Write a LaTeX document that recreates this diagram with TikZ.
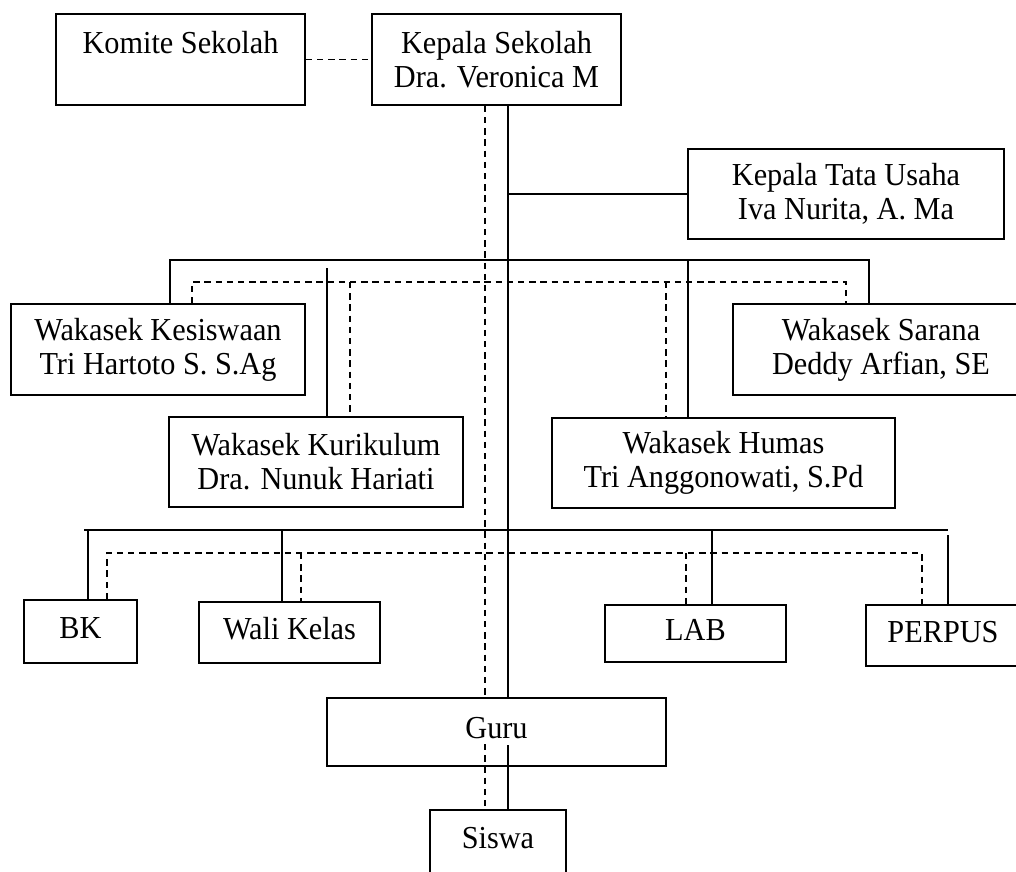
\documentclass[tikz,border=0pt]{standalone}
\usepackage{fontspec}
\setmainfont{Liberation Serif}[FakeStretch=0.946]
\begin{document}
\begin{tikzpicture}[x=0.75pt,y=-0.75pt,
  box/.style={draw,line width=1.3pt,rectangle,inner sep=0pt,align=center,
    font=\fontsize{24}{25.5}\selectfont},
  solidline/.style={line width=1.3pt},
  dashline/.style={line width=1.3pt,dash pattern=on 4.8pt off 3.6pt}]
\clip (0,0) rectangle (1016,871);
% boxes
\node[box,minimum width=186.75pt,minimum height=68.25pt] (komite) at (180.5,59.5) {Komite Sekolah\\\phantom{Dra. Veronica M}};
\node[box,minimum width=186.75pt,minimum height=68.25pt] (kepala) at (496.5,59.5) {Kepala Sekolah\\Dra. Veronica M};
\node[box,minimum width=237pt,minimum height=67.5pt] (ktu) at (846,194) {Kepala Tata Usaha\\Iva Nurita, A. Ma};
\node[box,minimum width=220.5pt,minimum height=68.25pt] (kesiswaan) at (158,349.5) {Wakasek Kesiswaan\\Tri Hartoto S. S.Ag};
\node[box,minimum width=222pt,minimum height=68.25pt] (sarana) at (881,349.5) {Wakasek Sarana\\Deddy Arfian, SE};
\node[box,minimum width=220.5pt,minimum height=67.5pt] (kurikulum) at (316,462) {Wakasek Kurikulum\\Dra. Nunuk Hariati};
\node[box,minimum width=257.25pt,minimum height=67.5pt] (humas) at (723.5,463) {Wakasek Humas\\Tri Anggonowati, S.Pd};
\node[box,minimum width=84.75pt,minimum height=47.25pt] (bk) at (80.5,631.5) {BK\strut};
\node[box,minimum width=135.75pt,minimum height=45.75pt] (wali) at (289.5,632.5) {Wali Kelas\strut};
\node[box,minimum width=135.75pt,minimum height=42.75pt] (lab) at (695.5,633.5) {LAB\strut};
\node[box,minimum width=115.5pt,minimum height=45.75pt] (perpus) at (943,635.5) {PERPUS\strut};
\node[box,minimum width=254.25pt,minimum height=51pt] (guru) at (496.5,732) {Guru\strut};
\node[box,minimum width=102pt,minimum height=47.25pt] (siswa) at (498,841.5) {Siswa\strut};
% coordinates
\coordinate (tS) at (508,0);
\coordinate (tD) at (485,0);
\coordinate (barL) at (170,260);
\coordinate (barR) at (869,260);
\coordinate (hS) at (688,260);
\coordinate (kS) at (327,268);
\coordinate (dL) at (192,282);
\coordinate (dR) at (846,282);
\coordinate (kD) at (350,282);
\coordinate (hD) at (666,282);
\coordinate (lbL) at (84,530);
\coordinate (lbR) at (948,530);
\coordinate (bkS) at (88,530);
\coordinate (wS) at (282,530);
\coordinate (lS) at (712,530);
\coordinate (pS) at (948,535);
\coordinate (ldL) at (107,553);
\coordinate (ldR) at (922,553);
\coordinate (wD) at (301,553);
\coordinate (lD) at (686,553);
\coordinate (gS) at (508,745);
\coordinate (gD) at (485,744);
% connectors
\draw[dashline] (komite.east) -- (kepala.west);
\draw[solidline] (kepala.south -| tS) -- (guru.north -| tS);
\draw[dashline] (kepala.south -| tD) -- (guru.north -| tD);
\draw[solidline] (ktu.west -| tS) -- (ktu.west);
\draw[solidline] (kesiswaan.north -| barL) -- (barL) -- (barR) -- (sarana.north -| barR);
\draw[solidline] (hS) -- (humas.north -| hS);
\draw[solidline] (kS) -- (kurikulum.north -| kS);
\draw[dashline] (kesiswaan.north -| dL) -- (dL) -- (dR) -- (sarana.north -| dR);
\draw[dashline] (kD) -- (kurikulum.north -| kD);
\draw[dashline] (hD) -- (humas.north -| hD);
\draw[solidline] (lbL) -- (lbR);
\draw[solidline] (bkS) -- (bk.north -| bkS);
\draw[solidline] (wS) -- (wali.north -| wS);
\draw[solidline] (lS) -- (lab.north -| lS);
\draw[solidline] (pS) -- (perpus.north -| pS);
\draw[dashline] (bk.north -| ldL) -- (ldL) -- (ldR) -- (perpus.north -| ldR);
\draw[dashline] (wD) -- (wali.north -| wD);
\draw[dashline] (lD) -- (lab.north -| lD);
\draw[solidline] (gS) -- (siswa.north -| gS);
\draw[dashline] (gD) -- (siswa.north -| gD);
\end{tikzpicture}
\end{document}
